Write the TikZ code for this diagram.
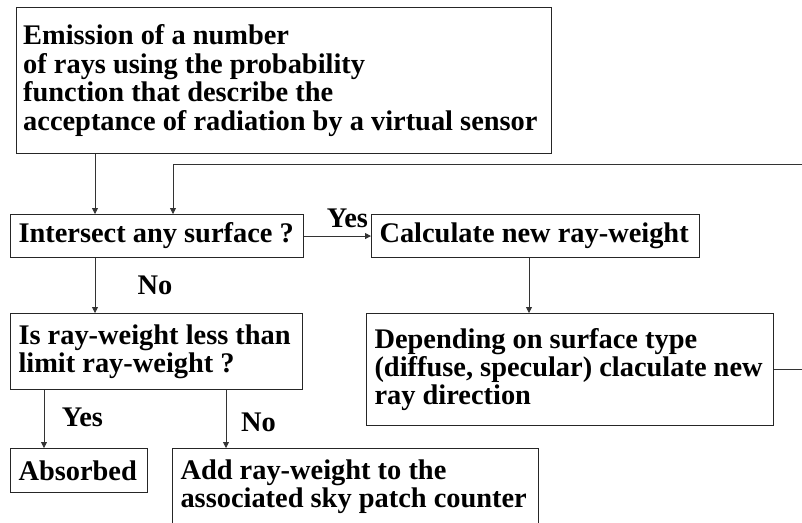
\documentclass[tikz,border=0pt]{standalone}
\usepackage{fontspec}
\setmainfont{Liberation Serif}
\usetikzlibrary{arrows.meta,positioning}

\begin{document}
\begin{tikzpicture}[x=0.75pt,y=-0.75pt,
  s/.style={draw=black!85,line width=0.8pt,anchor=north west,align=flush left,
            inner xsep=6pt,inner ysep=0pt,font=\fontsize{21.3}{21.3}\selectfont\bfseries,
            execute at begin node={\spaceskip=0pt\xspaceskip=0pt}},
  a/.style={-{Triangle[length=4.5pt,width=4.5pt]},draw=black!80,line width=0.6pt},
  l/.style={font=\fontsize{21.3}{21.3}\selectfont\bfseries,inner sep=0pt}]
  \useasboundingbox (0,0) rectangle (802,522);
  \node[s,inner xsep=5pt,text width=391pt,minimum height=109.5pt] (em) at (16,7)
    {Emission of a number\\of rays using the probability\\function that describe the\\acceptance of radiation by a virtual sensor};
  \node[s,text width=207.75pt,minimum height=32.25pt] (hit)  at (10,214)  {Intersect any surface ?};
  \node[s,text width=234pt,minimum height=32.25pt]    (calc) at (371,214) {Calculate new ray-weight};
  \node[s,text width=293.25pt,minimum height=84pt]    (dir)  at (366,313)
    {Depending on surface type\\(diffuse, specular) claculate new\\ray direction};
  \node[s,text width=207pt,minimum height=57pt]       (lim)  at (10,313)  {Is ray-weight less than\\limit ray-weight ?};
  \node[s,text width=90.75pt,minimum height=33pt]     (abs)  at (10,448)  {Absorbed};
  \node[s,text width=262.5pt,minimum height=57pt]     (add)  at (172,448)
    {Add ray-weight to the\\associated sky patch counter};
  % arrow columns
  \coordinate (x1) at (95,0);
  \coordinate (x2) at (173,164);
  \coordinate (x3) at (529,0);
  \coordinate (x4) at (44,0);
  \coordinate (x5) at (226,0);
  \coordinate (back) at (812,164);
  \draw[a] (em.south -| x1) -- (hit.north -| x1);
  \draw[a] (hit) -- (calc);
  \draw[a] (hit.south -| x1) -- (lim.north -| x1);
  \draw[a] (calc.south -| x3) -- (dir.north -| x3);
  \draw[a] (lim.south -| x4) -- (abs.north -| x4);
  \draw[a] (lim.south -| x5) -- (add.north -| x5);
  \draw[a] (dir.east) -| (back) -| (hit.north -| x2);
  % labels
  \node[l] (yes1) at (347.5,218) {Yes};
  \node[l] (no1)  at (155,285)   {No};
  \node[l] (yes2) at (82.5,417.5){Yes};
  \node[l] (no2)  at (258.5,422.5){No};
\end{tikzpicture}
\end{document}
